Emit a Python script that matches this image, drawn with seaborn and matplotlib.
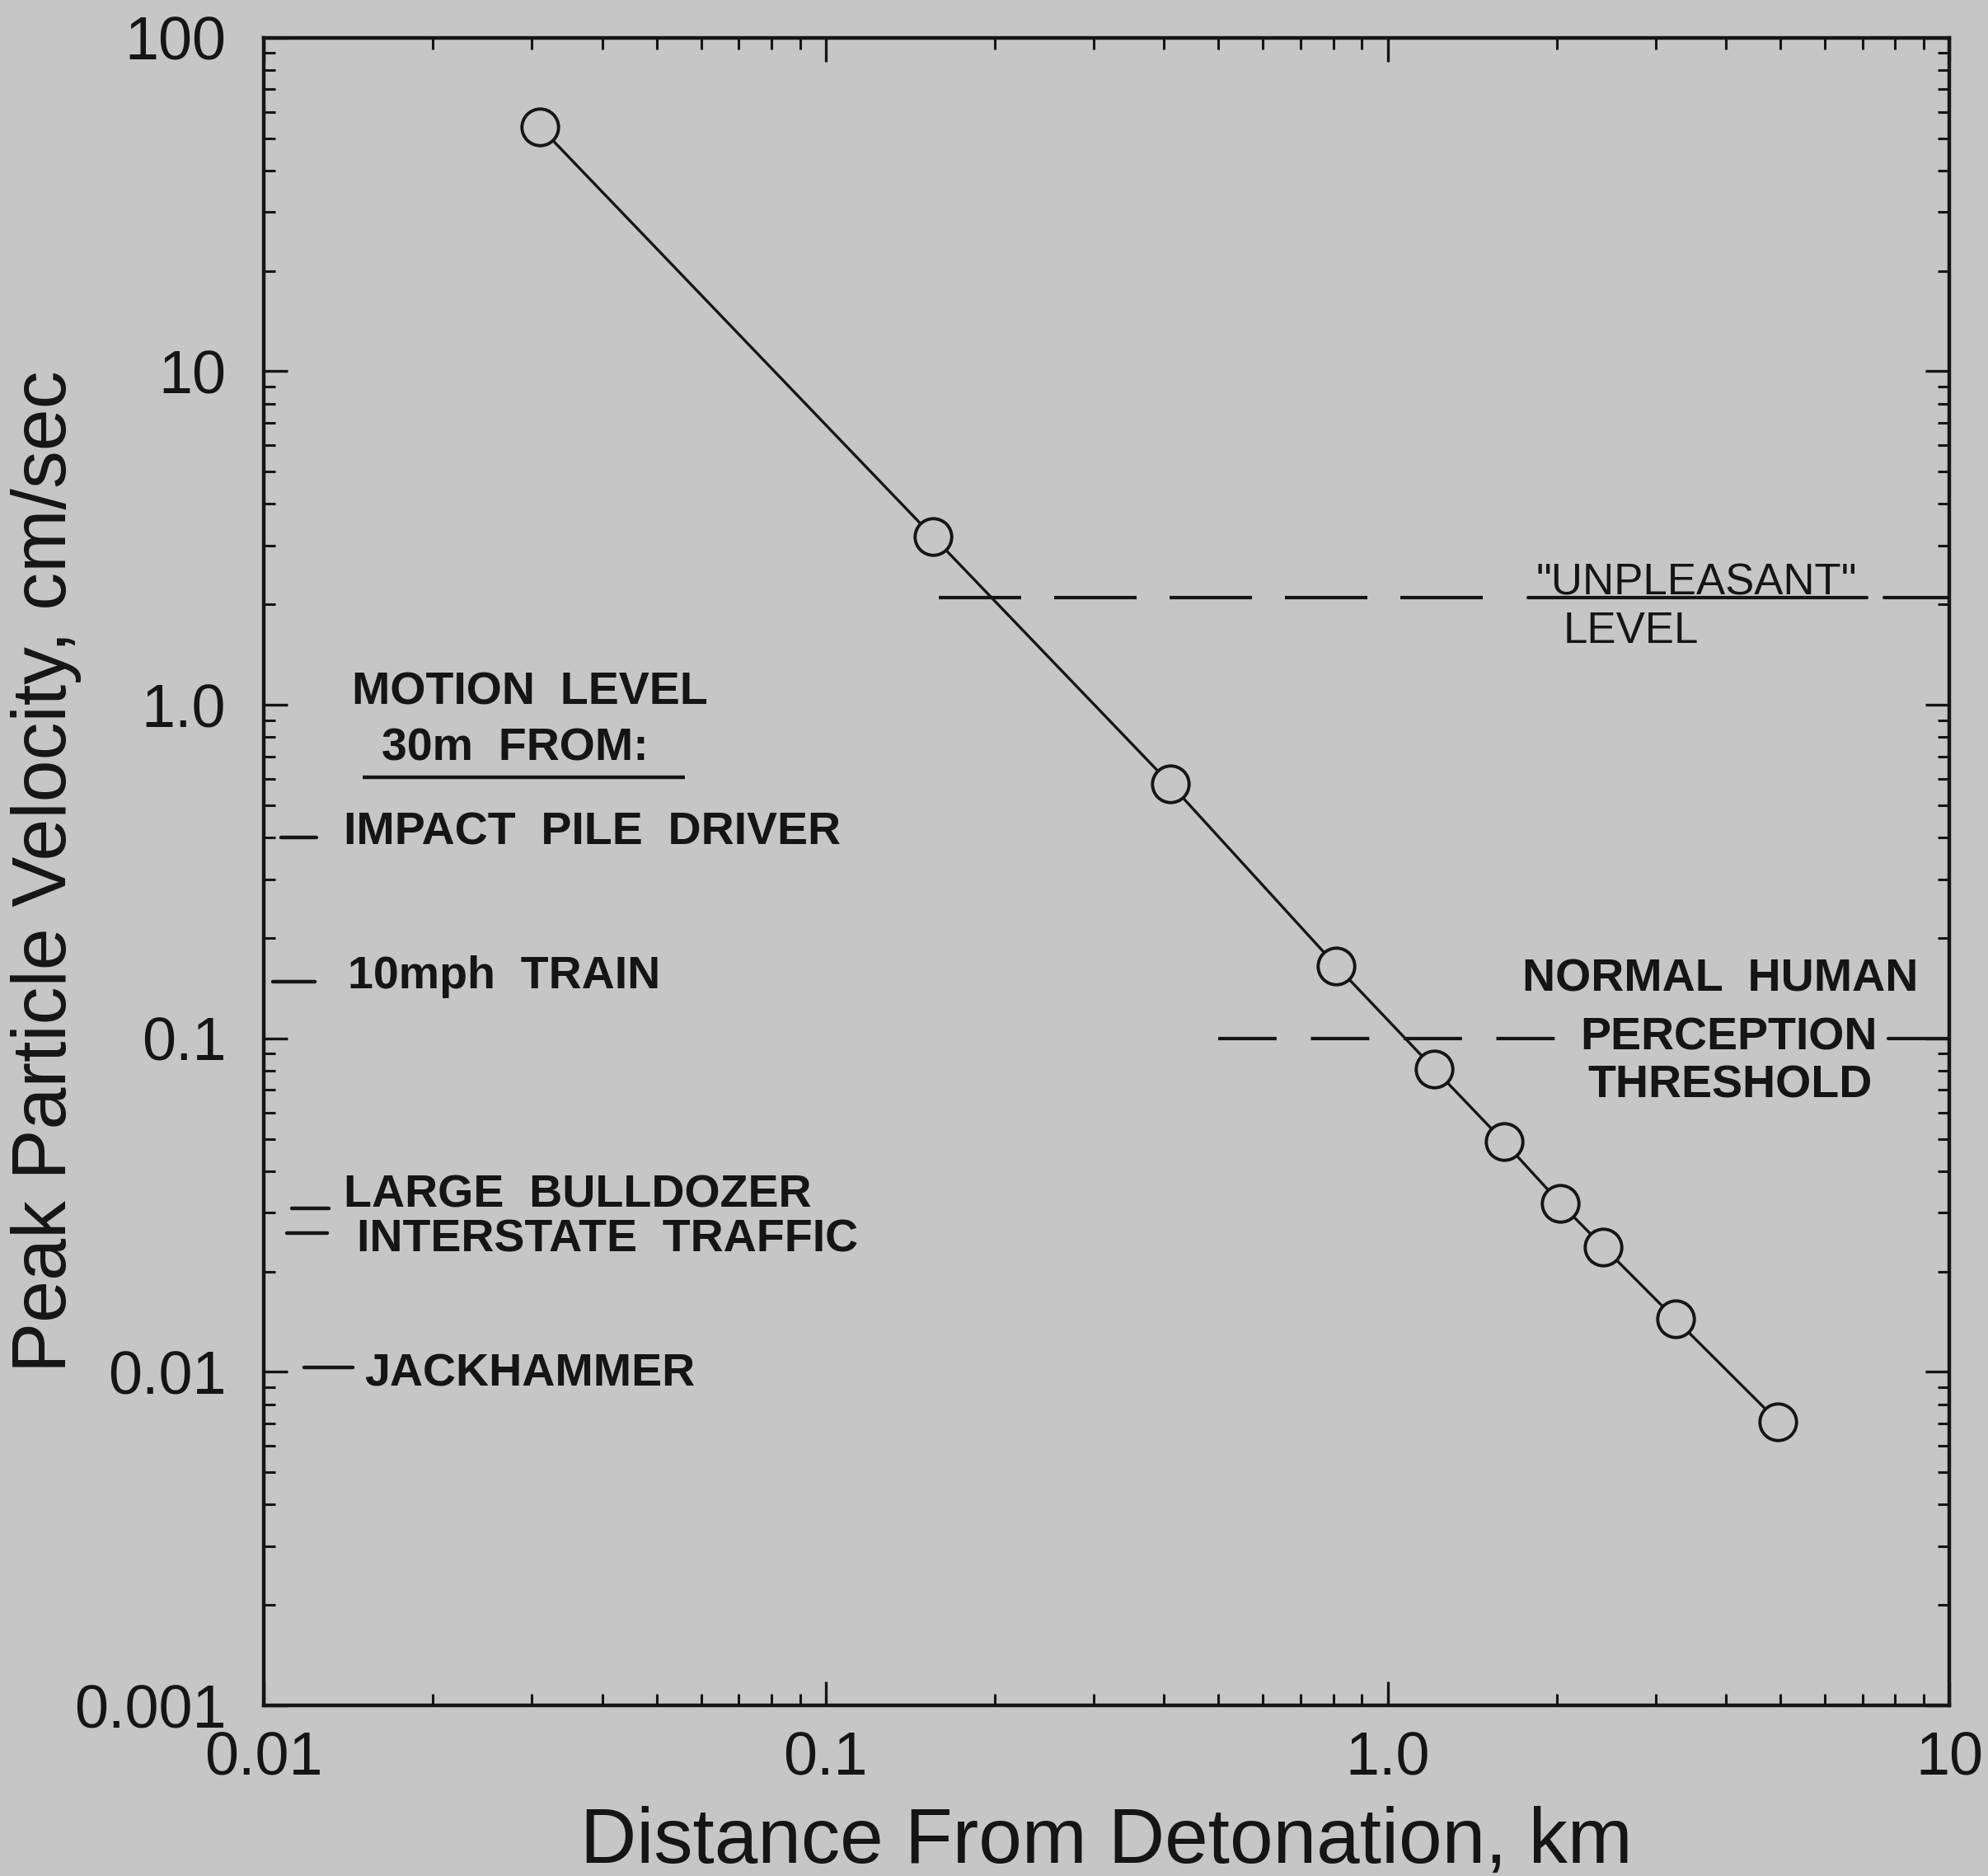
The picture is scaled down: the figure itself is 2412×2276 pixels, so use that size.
import matplotlib
matplotlib.use("Agg")
import matplotlib.pyplot as plt
import seaborn as sns
import pandas as pd

# ---------------- data ----------------
distance_km = [0.031, 0.155, 0.41, 0.81, 1.21, 1.61, 2.03, 2.42, 3.25, 4.95]
velocity_cm_s = [54, 3.2, 0.58, 0.165, 0.081, 0.049, 0.032, 0.0237, 0.0144, 0.0071]

source_labels = ["IMPACT  PILE  DRIVER", "10mph  TRAIN", "LARGE  BULLDOZER",
                 "INTERSTATE  TRAFFIC", "JACKHAMMER"]
source_levels = [0.40, 0.148, 0.031, 0.0261, 0.0103]

unpleasant_level = 2.1
perception_level = 0.1

x_ticks = [0.01, 0.1, 1.0, 10]
x_tick_labels = ["0.01", "0.1", "1.0", "10"]
y_ticks = [0.001, 0.01, 0.1, 1.0, 10, 100]
y_tick_labels = ["0.001", "0.01", "0.1", "1.0", "10", "100"]

x_label = "Distance From Detonation, km"
y_label = "Peak Particle Velocity, cm/sec"

# ---------------- style ----------------
BG = "#c6c6c6"
INK = "#151515"
sns.set_style("ticks")
plt.rcParams["font.family"] = ["Liberation Sans", "DejaVu Sans"]
plt.rcParams["axes.facecolor"] = BG
plt.rcParams["figure.facecolor"] = BG

fig = plt.figure(figsize=(24.12, 22.76), dpi=100)
ax = fig.add_axes([0.1327, 0.0909, 0.848, 0.889])
ax.set_facecolor(BG)

df = pd.DataFrame({"distance": distance_km, "velocity": velocity_cm_s})
sns.lineplot(data=df, x="distance", y="velocity", ax=ax, color=INK, linewidth=2.4,
             marker="o", markersize=32, markerfacecolor=BG, markeredgecolor=INK,
             markeredgewidth=2.8, sort=True, zorder=5)

ax.set_xscale("log")
ax.set_yscale("log")
ax.set_xlim(x_ticks[0], x_ticks[-1])
ax.set_ylim(y_ticks[0], y_ticks[-1])
ax.set_xticks(x_ticks)
ax.set_xticklabels(x_tick_labels)
ax.set_yticks(y_ticks)
ax.set_yticklabels(y_tick_labels)

for s in ax.spines.values():
    s.set_linewidth(3.2)
    s.set_color(INK)
ax.tick_params(which="both", direction="in", top=True, right=True, color=INK,
               labelcolor=INK)
ax.tick_params(which="major", length=21, width=2.4, labelsize=53)
ax.tick_params(axis="x", which="major", pad=22)
ax.tick_params(axis="y", which="major", pad=33)
ax.tick_params(which="minor", length=10, width=2.2)

ax.set_xlabel(x_label, fontsize=68, color=INK, va="center")
ax.set_ylabel(y_label, fontsize=66, color=INK, va="center")
ax.xaxis.set_label_coords(0.5, -0.082)
ax.yaxis.set_label_coords(-0.129, 0.5)

# ---------------- reference lines ----------------
ax.axhline(unpleasant_level, xmin=0.4005, xmax=0.7372, color=INK, lw=3.0,
           dashes=(24, 9.6))
ax.axhline(unpleasant_level, xmin=0.750, xmax=0.951, color=INK, lw=3.0)
ax.axhline(unpleasant_level, xmin=0.961, xmax=1.0, color=INK, lw=3.0)

ax.axhline(perception_level, xmin=0.5659, xmax=0.7674, color=INK, lw=3.0,
           dashes=(17, 10))
ax.axhline(perception_level, xmin=0.9635, xmax=1.0, color=INK, lw=3.0)

# ---------------- right annotations ----------------
ax.annotate('"UNPLEASANT"', xy=(0.8496, unpleasant_level),
            xycoords=("axes fraction", "data"), xytext=(0, 2),
            textcoords="offset points", ha="center", va="baseline",
            fontsize=38, color=INK)
ax.text(0.811, 0.6442, "LEVEL", transform=ax.transAxes, ha="center",
        va="center", fontsize=38, color=INK)

ax.text(0.8638, 0.435, "NORMAL  HUMAN", transform=ax.transAxes, ha="center",
        va="center", fontsize=40, fontweight="bold", color=INK)
ax.annotate("PERCEPTION", xy=(0.869, perception_level),
            xycoords=("axes fraction", "data"), ha="center", va="center",
            fontsize=40, fontweight="bold", color=INK)
ax.text(0.870, 0.3715, "THRESHOLD", transform=ax.transAxes, ha="center",
        va="center", fontsize=40, fontweight="bold", color=INK)

# ---------------- left annotations ----------------
ax.text(0.1577, 0.6073, "MOTION  LEVEL", transform=ax.transAxes, ha="center",
        va="center", fontsize=40, fontweight="bold", color=INK)
ax.text(0.149, 0.5738, "30m  FROM:", transform=ax.transAxes, ha="center",
        va="center", fontsize=40, fontweight="bold", color=INK)
ax.plot([0.0584, 0.2496], [0.5566, 0.5566], transform=ax.transAxes,
        color=INK, lw=3.2, solid_capstyle="butt")

dash_x = [(0.0102, 0.0311), (0.0054, 0.0302), (0.0165, 0.0384),
          (0.0136, 0.0375), (0.0238, 0.0526)]
text_x = [0.0472, 0.0496, 0.0472, 0.055, 0.0599]
text_dy = [4, 4, 11, -6.5, -6]
for lab, lev, (x0, x1), tx, dy in zip(source_labels, source_levels, dash_x,
                                      text_x, text_dy):
    ax.axhline(lev, xmin=x0, xmax=x1, color=INK, lw=3.2)
    ax.annotate(lab, xy=(tx, lev), xycoords=("axes fraction", "data"),
                xytext=(0, dy), textcoords="offset points", ha="left",
                va="center", fontsize=40, fontweight="bold", color=INK)

fig.savefig("out.png", dpi=100, facecolor=BG)
